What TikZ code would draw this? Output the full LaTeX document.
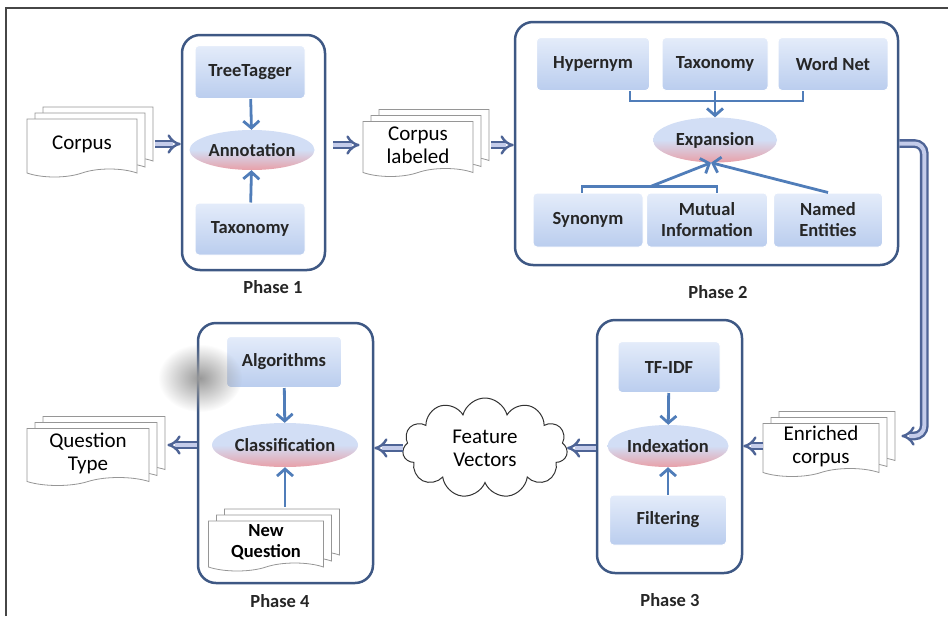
\documentclass[tikz,border=0pt]{standalone}
\usepackage{fontspec}
\setmainfont{Carlito}
\usetikzlibrary{shapes.geometric,shapes.symbols,shadows,arrows.meta,calc,fadings}

\definecolor{boxblue}{RGB}{62,88,132}
\definecolor{feedblue}{RGB}{80,125,185}
\definecolor{flowblue}{RGB}{78,100,150}
\definecolor{flowfill}{RGB}{196,204,234}
\definecolor{tooltop}{RGB}{228,236,250}
\definecolor{toolbot}{RGB}{186,205,238}
\definecolor{tasktop}{RGB}{210,222,245}
\definecolor{taskbot}{RGB}{232,160,168}
\definecolor{docgray}{RGB}{150,150,150}
\definecolor{framegray}{RGB}{70,70,70}

\tikzfading[name=blurspot, inner color=transparent!0, outer color=transparent!100]

\begin{document}
\begin{tikzpicture}[
  x=1pt, y=-1pt,
  phase/.style={draw=boxblue, line width=2.5pt, rounded corners=18pt, inner sep=0pt},
  tool/.style={rectangle, rounded corners=4pt, top color=tooltop, bottom color=toolbot,
    draw=white, line width=1pt, inner sep=0pt, align=center, text=black!85,
    font=\fontsize{18.5}{21}\selectfont\bfseries},
  task/.style={ellipse, top color=tasktop, bottom color=taskbot, middle color=tasktop,
    inner sep=0pt, text=black!85, font=\fontsize{18.5}{21}\selectfont\bfseries},
  doc/.style={tape, tape bend top=none, tape bend bottom=in and out, tape bend height=8pt,
    draw=docgray, fill=white, line width=0.8pt, align=center, inner sep=0pt,
    copy shadow={shadow xshift=16pt, shadow yshift=12pt, draw=docgray, fill=white},
    copy shadow={shadow xshift=8pt, shadow yshift=6pt, draw=docgray, fill=white},
    font=\fontsize{21}{23}\selectfont},
  phaselbl/.style={font=\fontsize{18.5}{21}\selectfont\bfseries, text=black!85},
  feed/.style={draw=feedblue, line width=2.8pt, -{Straight Barb[length=7pt,width=16pt]}},
  feedline/.style={draw=feedblue, line width=2.5pt},
  flow/.style={draw=flowblue, double=flowfill, double distance=4pt, line width=2.4pt, -{Implies}},
]
\useasboundingbox (0,0) rectangle (952,616);

% frame
\draw [framegray, line width=1.5pt] (6,616) -- (6,8) -- (948,8);

% phase boxes
\node [phase, minimum width=143pt, minimum height=235pt] (p1) at (253.5,152.5) {};
\node [phase, minimum width=383pt, minimum height=243pt] (p2) at (706.5,143.5) {};
\node [phase, minimum width=145pt, minimum height=253pt] (p3) at (669.5,446.5) {};
\node [phase, minimum width=175pt, minimum height=260pt] (p4) at (285.5,453) {};

\node [phaselbl] (lbl1) at (273,287) {Phase 1};
\node [phaselbl] (lbl2) at (718,292) {Phase 2};
\node [phaselbl] (lbl3) at (670,600) {Phase 3};
\node [phaselbl] (lbl4) at (280,601) {Phase 4};

% phase 1
\node [tool, minimum width=110pt, minimum height=53pt] (tagger) at (250,72) {TreeTagger};
\node [task, minimum width=125pt, minimum height=40pt] (ann) at (252,150) {Annotation};
\node [tool, minimum width=110pt, minimum height=52pt] (tax1) at (250,229) {Taxonomy};
\draw [feed] (tagger) -- (ann);
\draw [feed] (tax1) -- (ann);

% phase 2
\node [tool, minimum width=113pt, minimum height=53pt] (hyp) at (593,64) {Hypernym};
\node [tool, minimum width=106pt, minimum height=53pt] (tax2) at (715,64) {Taxonomy};
\node [tool, minimum width=110pt, minimum height=53pt] (wn) at (833,64) {Word Net};
\node [task, minimum width=124pt, minimum height=45pt] (exp) at (715,140) {Expansion};
\node [tool, minimum width=110pt, minimum height=54pt] (syn) at (588,220) {Synonym};
\node [tool, minimum width=121pt, minimum height=54pt] (mut) at (707,220) {Mutual\\Information};
\node [tool, minimum width=109pt, minimum height=54pt] (ne) at (828,220) {Named\\Entities};

\draw [feedline] ([xshift=37pt]hyp.south) -- ++(0,10) -| ([xshift=-30pt]wn.south);
\draw [feed] (tax2.south) -- (exp.north);
\draw [feedline] ([xshift=-6pt]syn.north) -- ++(0,-6) -| ([xshift=10pt]mut.north);
\draw [feed] ($(syn.north)!0.5!(mut.north)+(3,-6)$) -- ([xshift=-4pt]exp.south);
\draw [feed] (ne.north) -- ([xshift=-4pt]exp.south);

% phase 3
\node [tool, minimum width=102pt, minimum height=51pt] (tfidf) at (669,367) {TF-IDF};
\node [task, minimum width=121pt, minimum height=42pt] (idx) at (668,446) {Indexation};
\node [tool, minimum width=117pt, minimum height=50pt] (filt) at (668,520) {Filtering};
\draw [feed] (tfidf) -- (idx);
\draw [feed] (filt) -- (idx);

% phase 4
\node [tool, minimum width=115pt, minimum height=51pt] (alg) at (284,362) {Algorithms};
\node [task, minimum width=146pt, minimum height=44pt] (cls) at (285,445) {Classification};
\node [doc, minimum width=115pt, minimum height=50pt, font=\fontsize{18.5}{21}\selectfont\bfseries] (newq) at (266,542) {New\\Question};
\draw [feed] (alg) -- (cls);
\draw [feed] ($(newq.north -| cls.south)+(0,-14)$) -- (cls.south);
\fill [black!40, path fading=blurspot] (200,378) ellipse [x radius=42, y radius=34];

% documents and cloud
\node [doc, minimum width=110pt, minimum height=58pt] (corpus) at (82,144) {Corpus};
\node [doc, minimum width=110pt, minimum height=55pt] (lab) at (418,145) {Corpus\\labeled};
\node [doc, minimum width=116pt, minimum height=53pt] (enr) at (821,446) {Enriched\\corpus};
\node [doc, minimum width=122pt, minimum height=57pt] (qt) at (88,453) {Question\\Type};
\node [cloud, draw=black!80, line width=1pt, cloud puffs=11, aspect=1.6,
  minimum width=165pt, minimum height=100pt, inner sep=0pt, align=center,
  font=\fontsize{21}{23}\selectfont] (fv) at (485,448) {Feature\\Vectors};

% flow between phases
\draw [flow, shorten <=18pt] (corpus.east) -- (corpus.east -| p1.west);
\draw [flow, shorten <=7pt, shorten >=3pt] (p1.east |- lab.west) -- (lab.west);
\draw [flow, shorten <=18pt] (lab.east) -- (lab.east -| p2.west);
\draw [flow, rounded corners=10pt] (p2.east) -- ++(25,0) |- ([xshift=22pt,yshift=10pt]enr.east);
\draw [flow] (enr.west) -- (enr.west -| p3.east);
\draw [flow] (p3.west |- fv.east) -- (fv.east);
\draw [flow] (fv.west) -- (fv.west -| p4.east);
\draw [flow] (p4.west |- cls.west) -- ($(qt.east |- cls.west)+(18,0)$);

\end{tikzpicture}
\end{document}
